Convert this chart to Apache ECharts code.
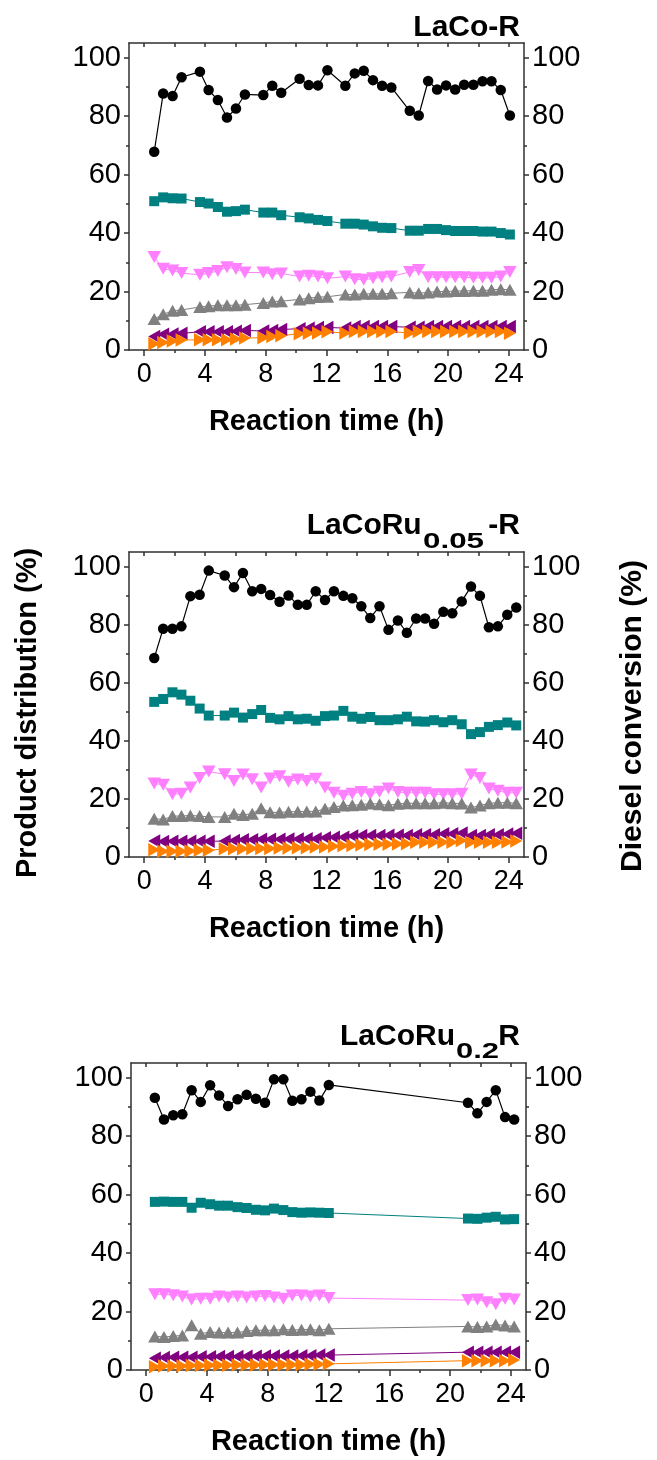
<!DOCTYPE html>
<html><head><meta charset="utf-8">
<script src="https://cdn.jsdelivr.net/npm/echarts@6/dist/echarts.min.js"></script>
<style>html,body{margin:0;padding:0;background:#fff}#c{width:657px;height:1460px}</style>
</head><body><div id="c"></div>
<script>
// ---------- data ----------
const xTicks = [0, 4, 8, 12, 16, 20, 24];
const xMinorTicks = [2, 6, 10, 14, 18, 22];
const xTopTicks = [0, 2, 4, 6, 8, 10, 12, 14, 16, 18, 20, 22, 24];
const yTicks = [0, 20, 40, 60, 80, 100];
const yMinorTicks = [10, 30, 50, 70, 90];

const titles = ['LaCo-R', 'LaCoRu0.05-R', 'LaCoRu0.2R'];
const xTitle = 'Reaction time (h)';
const yLeftTitle = 'Product distribution (%)';
const yRightTitle = 'Diesel conversion (%)';

// Panel 1: LaCo-R
const time1 = [0.66,1.25,1.87,2.46,3.67,4.24,4.85,5.45,6.04,6.63,7.84,8.43,9.02,10.23,10.83,11.44,12.06,13.24,13.86,14.45,15.06,15.66,16.27,17.48,18.07,18.69,19.28,19.87,20.47,21.06,21.67,22.27,22.86,23.47,24.07];
const conv1 = [67.8,87.7,86.9,93.3,95.2,88.9,85.5,79.5,82.6,87.4,87.2,90.4,88.0,92.8,90.6,90.5,95.7,90.4,94.6,95.5,92.3,90.4,89.8,81.8,80.2,92.0,89.1,90.5,89.1,90.7,90.7,91.9,91.9,88.9,80.2];
const teal1 = [50.9,52.2,51.9,51.8,50.6,50.1,48.9,47.3,47.5,48.0,47.0,47.0,46.1,45.4,45.0,44.5,44.1,43.2,43.2,42.9,42.3,41.8,41.7,40.8,40.8,41.4,41.4,41.0,40.7,40.7,40.7,40.5,40.5,40.0,39.5];
const violet1 = [31.8,27.8,27.2,26.3,25.7,26.3,27.0,28.3,27.7,26.5,26.5,25.9,26.2,25.1,25.4,25.1,24.5,25.1,24.2,24.0,24.5,24.9,25.1,26.7,27.4,24.9,24.9,24.9,24.9,24.9,24.7,24.7,24.7,25.1,26.7];
const gray1 = [10.6,12.2,13.4,13.7,14.7,15.0,15.3,15.3,15.3,15.5,16.1,16.6,16.7,17.3,17.7,18.1,18.2,19.0,19.0,19.2,19.2,19.2,19.4,19.7,19.4,19.7,20.0,20.0,20.2,20.2,20.3,20.3,20.6,20.8,20.6];
const purple1 = [4.6,5.4,5.5,5.7,6.2,6.2,6.2,6.2,6.4,6.7,6.5,6.7,7.0,7.3,7.4,7.7,7.7,7.5,8.0,8.0,8.0,8.0,8.0,7.8,7.8,8.0,8.0,8.0,8.0,8.0,8.0,8.0,8.0,8.0,8.0];
const orange1 = [2.1,2.6,3.1,3.4,3.5,3.5,3.5,3.5,3.8,4.1,4.2,4.6,4.9,5.6,5.7,5.8,6.2,5.8,6.3,6.3,6.3,6.3,6.3,5.8,6.3,6.3,6.3,6.3,6.3,6.3,6.3,6.3,6.3,6.3,5.7];

// Panel 2: LaCoRu0.05-R
const time2 = [0.66,1.25,1.86,2.45,3.04,3.65,4.25,5.30,5.91,6.50,7.11,7.70,8.29,8.91,9.50,10.11,10.70,11.29,11.90,12.49,13.11,13.70,14.29,14.88,15.49,16.08,16.70,17.29,17.90,18.49,19.08,19.69,20.28,20.90,21.51,22.10,22.69,23.28,23.90,24.49];
const conv2 = [68.5,78.6,78.6,79.4,89.8,90.3,98.6,96.9,92.9,97.8,91.5,92.3,90.2,87.9,90.0,86.8,86.8,91.5,88.5,91.5,89.9,89.1,86.3,82.3,86.3,78.2,81.4,77.2,82.1,82.1,80.3,84.4,83.9,88.0,93.1,89.9,79.1,79.4,83.4,85.9];
const teal2 = [53.4,54.4,56.7,55.9,53.8,51.1,48.7,48.7,49.7,48.0,49.2,50.6,47.9,47.4,48.5,47.4,47.6,46.9,48.5,48.7,50.3,48.3,47.6,48.2,47.1,47.1,47.4,48.3,46.7,46.6,47.1,46.4,47.1,45.7,42.3,43.0,44.8,45.4,46.3,45.3];
const violet2 = [25.3,24.9,21.6,21.8,23.9,27.2,29.4,28.5,26.2,28.4,26.8,23.9,27.0,27.8,25.9,26.7,26.2,26.9,23.9,22.1,21.1,21.8,22.4,21.6,22.5,23.6,22.4,22.1,22.1,22.1,21.6,21.6,21.6,21.8,28.4,27.2,23.6,22.8,22.1,22.1];
const gray2 = [13.2,12.9,14.1,14.1,14.3,14.1,13.8,13.8,14.9,14.5,14.9,16.8,15.4,15.3,15.6,15.6,15.7,15.7,16.6,17.2,17.7,17.8,18.0,18.4,18.2,17.8,18.3,18.5,18.5,18.5,18.5,18.7,18.5,18.4,17.0,17.7,18.5,18.7,18.7,18.5];
const purple2 = [5.5,5.3,5.4,5.4,5.4,5.4,5.4,5.5,5.7,5.9,5.9,6.1,6.1,6.1,6.2,6.2,6.3,6.3,6.6,6.8,6.8,7.2,7.4,7.4,7.4,7.5,7.5,7.4,7.7,7.7,7.7,8.0,8.0,8.3,7.4,7.4,7.7,7.7,7.9,8.2];
const orange2 = [2.5,2.0,2.0,2.0,2.1,2.3,2.3,2.8,2.8,2.8,2.9,2.9,2.9,3.1,3.1,3.2,3.2,3.4,3.4,3.7,3.9,4.0,4.1,4.3,4.4,4.4,4.5,4.6,5.1,5.1,5.1,5.1,5.1,5.7,5.1,5.1,5.1,5.1,5.2,5.5];

// Panel 3: LaCoRu0.2R
const time3 = [0.57,1.17,1.78,2.38,2.99,3.59,4.21,4.80,5.39,6.01,6.61,7.22,7.82,8.41,9.03,9.62,10.22,10.81,11.40,12.02,21.18,21.80,22.41,23.01,23.62,24.22];
const conv3 = [93.1,85.7,87.1,87.5,95.7,91.7,97.4,93.9,90.3,92.6,94.1,92.8,91.4,99.4,99.4,92.1,92.6,95.2,92.2,97.5,91.4,87.8,91.7,95.7,86.5,85.7];
const teal3 = [57.5,57.6,57.5,57.5,55.5,57.2,56.7,56.2,56.2,55.7,55.4,54.8,54.6,55.2,54.7,54.0,53.8,53.9,53.8,53.7,51.8,51.7,52.1,52.4,51.5,51.6];
const violet3 = [25.9,25.9,25.6,25.1,24.1,24.4,24.4,25.1,24.8,25.1,24.8,25.1,25.3,24.8,24.4,25.5,25.5,25.1,25.5,24.6,23.9,24.1,23.2,22.5,24.4,24.1];
const gray3 = [11.5,11.3,11.6,11.8,15.3,12.4,13.0,12.8,12.8,12.8,13.3,13.6,13.6,13.6,13.9,13.7,13.8,13.9,13.6,14.1,14.9,14.7,14.9,15.6,15.2,14.9];
const purple3 = [4.0,4.3,4.4,4.4,4.4,4.5,4.5,4.6,4.6,4.6,4.7,4.7,4.8,4.8,4.8,4.8,4.9,4.9,5.1,5.1,6.1,6.1,6.1,6.1,6.1,6.1];
const orange3 = [1.1,1.4,1.4,1.4,1.5,1.5,1.6,1.6,1.6,1.7,1.7,1.7,1.8,1.8,1.8,1.8,1.8,2.0,2.0,2.1,3.2,3.2,3.2,3.2,3.2,3.4];

// ---------- chart ----------
const FONT = "'Liberation Sans', Arial, Helvetica, sans-serif";
const AX = '#303030';
const panels = [
  {time: time1, conv: conv1, teal: teal1, violet: violet1, gray: gray1, purple: purple1, orange: orange1},
  {time: time2, conv: conv2, teal: teal2, violet: violet2, gray: gray2, purple: purple2, orange: orange2},
  {time: time3, conv: conv3, teal: teal3, violet: violet3, gray: gray3, purple: purple3, orange: orange3}
];
const gridBoxes = [
  {left: 129, right: 133, top: 43, height: 307},
  {left: 129, right: 133, top: 552, height: 305},
  {left: 131, right: 131, top: 1063, height: 307}
];
const TRI = [13.5, 12];
const styles = [
  {key: 'teal', color: '#008080', symbol: 'rect', size: 10, rot: 0},
  {key: 'violet', color: '#FF80FF', symbol: 'triangle', size: TRI, rot: 180},
  {key: 'gray', color: '#808080', symbol: 'triangle', size: TRI, rot: 0},
  {key: 'purple', color: '#800080', symbol: 'triangle', size: TRI, rot: 90},
  {key: 'orange', color: '#FF8000', symbol: 'triangle', size: TRI, rot: -90}
];

const grid = [], xAxis = [], yAxis = [], series = [];
const lineSt = {color: AX, width: 1.5};
panels.forEach((p, i) => {
  grid.push(Object.assign({containLabel: false}, gridBoxes[i]));
  xAxis.push({type: 'value', gridIndex: i, min: -1, max: 25, position: 'bottom',
    axisLine: {show: true, onZero: false, lineStyle: lineSt},
    axisTick: {show: true, inside: false, length: 6, customValues: xTicks, lineStyle: lineSt},
    axisLabel: {show: true, customValues: xTicks, fontSize: 27, margin: 11, color: '#000', fontFamily: FONT},
    splitLine: {show: false},
    name: xTitle, nameLocation: 'middle', nameGap: 57,
    nameTextStyle: {fontSize: 29, fontWeight: 'bold', color: '#000', fontFamily: FONT}
  });
  xAxis.push({type: 'value', gridIndex: i, min: -1, max: 25, position: 'bottom',
    axisLine: {show: false, onZero: false},
    axisTick: {show: true, inside: false, length: 3, customValues: xMinorTicks, lineStyle: lineSt},
    axisLabel: {show: false}, splitLine: {show: false}
  });
  xAxis.push({type: 'value', gridIndex: i, min: -1, max: 25, position: 'top',
    axisLine: {show: true, onZero: false, lineStyle: lineSt},
    axisTick: {show: true, inside: true, length: 4, customValues: xTopTicks, lineStyle: lineSt},
    axisLabel: {show: false}, splitLine: {show: false}
  });
  ['left', 'right'].forEach(pos => {
    yAxis.push({type: 'value', gridIndex: i, min: 0, max: 105, position: pos,
      axisLine: {show: true, onZero: false, lineStyle: lineSt},
      axisTick: {show: true, inside: false, length: 5, customValues: yTicks, lineStyle: lineSt},
      axisLabel: {show: true, customValues: yTicks, fontSize: 29, margin: 8, color: '#000', fontFamily: FONT},
      splitLine: {show: false}
    });
    yAxis.push({type: 'value', gridIndex: i, min: 0, max: 105, position: pos,
      axisLine: {show: false, onZero: false},
      axisTick: {show: true, inside: false, length: 3, customValues: yMinorTicks, lineStyle: lineSt},
      axisLabel: {show: false}, splitLine: {show: false}
    });
  });
  styles.forEach(s => {
    series.push({type: 'line', name: s.key + (i + 1), xAxisIndex: 3 * i, yAxisIndex: 4 * i,
      data: p.time.map((t, k) => [t, p[s.key][k]]),
      symbol: s.symbol, symbolSize: s.size, symbolRotate: s.rot, showSymbol: true,
      itemStyle: {color: s.color, borderWidth: 0},
      lineStyle: {color: s.color, width: 1}, silent: true, z: 2
    });
  });
  series.push({type: 'line', name: 'conversion' + (i + 1), xAxisIndex: 3 * i, yAxisIndex: 4 * i + 2,
    data: p.time.map((t, k) => [t, p.conv[k]]),
    symbol: 'circle', symbolSize: 10.5, showSymbol: true,
    itemStyle: {color: '#000', borderWidth: 0},
    lineStyle: {color: '#000', width: 1.2}, silent: true, z: 3
  });
});

function measure(text, font) {
  const c = document.createElement('canvas').getContext('2d');
  c.font = font; return c.measureText(text).width;
}
const subFontPx = 22;
const subFont = 'bold ' + subFontPx + 'px ' + FONT;
function txt(text, x, y, size, align, extra) {
  return Object.assign({type: 'text', x: x, y: y, silent: true,
    style: {text: text, font: 'bold ' + size + 'px ' + FONT, fill: '#000', textAlign: align, textVerticalAlign: 'middle'}}, extra || {});
}
const graphic = [];
graphic.push(txt(titles[0], 520, 27.5, 30, 'right'));
graphic.push(txt('LaCoRu', 421.7, 526, 30, 'right'));
graphic.push(txt('0.05', 423, 542, subFontPx, 'left', {scaleX: 61 / measure('0.05', subFont)}));
graphic.push(txt('-R', 520, 526, 30, 'right'));
graphic.push(txt('LaCoRu', 455, 1037, 30, 'right'));
graphic.push(txt('0.2', 456, 1052, subFontPx, 'left', {scaleX: 43 / measure('0.2', subFont)}));
graphic.push(txt('R', 520, 1037, 30, 'right'));
graphic.push(txt(yLeftTitle, 27.5, 713, 29, 'center', {rotation: Math.PI / 2}));
graphic.push(txt(yRightTitle, 633, 716, 30, 'center', {rotation: Math.PI / 2}));

const chart = echarts.init(document.getElementById('c'), null, {renderer: 'canvas'});
chart.setOption({animation: false, backgroundColor: '#fff', grid, xAxis, yAxis, series, graphic});
</script>
</body></html>
